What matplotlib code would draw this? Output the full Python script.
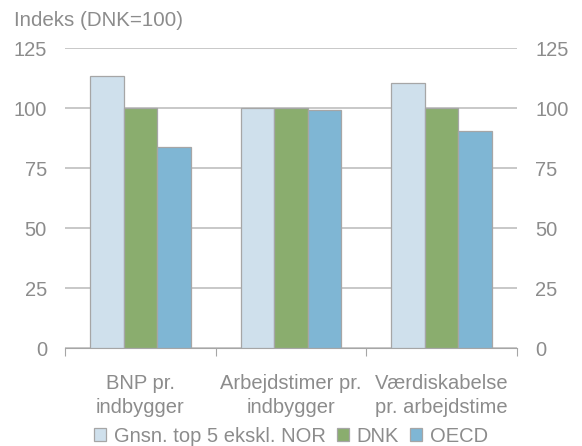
import matplotlib.pyplot as plt
import numpy as np

plt.rcParams['font.family'] = ['Liberation Sans', 'DejaVu Sans']

# data
kategorier = ['BNP pr.\nindbygger', 'Arbejdstimer pr.\nindbygger', 'Værdiskabelse\npr. arbejdstime']
serier = ['Gnsn. top 5 ekskl. NOR', 'DNK', 'OECD']
top5 = [113.5, 100.1, 110.4]
dnk = [100, 100, 100]
oecd = [83.9, 99.2, 90.4]
yticks = [0, 25, 50, 75, 100, 125]

farver = ['#cfe0ec', '#8aad6e', '#7fb6d4']
grå = '#8c8c8c'
linje = '#bfbfbf'
fs = 14.5

fig = plt.figure(figsize=(5.82, 4.46), dpi=100)
ax = fig.add_axes([65/582, 98/446, 452/582, 300/446])

x = np.arange(len(kategorier))
w = 0.223
for i, (vals, f) in enumerate(zip([top5, dnk, oecd], farver)):
    ax.bar(x + (i - 1) * w, vals, width=w, color=f, edgecolor='#a6a6a6',
           linewidth=0.9, label=serier[i], zorder=3)

ax.set_xlim(-0.5, 2.5)
ax.set_ylim(0, 125)
ax.set_yticks(yticks)
ax.yaxis.grid(True, color=linje, linewidth=1.2, zorder=0)
ax.tick_params(axis='y', length=0, labelsize=fs, labelcolor=grå, pad=13,
               right=True, labelright=True)
for s in ['top', 'left', 'right']:
    ax.spines[s].set_visible(False)
ax.spines['bottom'].set_color('#a6a6a6')

ax.set_xticks([-0.5, 0.5, 1.5, 2.5])
ax.set_xticklabels([])
ax.tick_params(axis='x', length=6, color='#a6a6a6', direction='out')
for xi, lab in zip(x, kategorier):
    ax.text(xi, -11, lab, ha='center', va='top', fontsize=fs, color=grå,
            linespacing=1.3)

fig.text(14/582, 1 - 20/446, 'Indeks (DNK=100)', fontsize=14.8, color=grå,
         ha='left', va='center')

fig.legend(loc='lower center', bbox_to_anchor=(0.5, -0.04), ncol=3,
           frameon=False, fontsize=fs, labelcolor=grå, handlelength=0.6,
           handleheight=0.6, handletextpad=0.4, columnspacing=0.55)

fig.savefig('out.png', dpi=100)
